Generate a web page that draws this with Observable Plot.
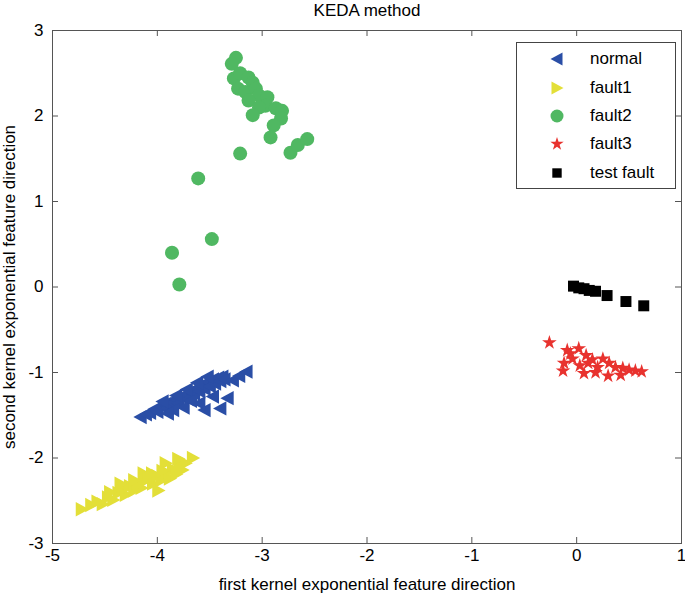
<!DOCTYPE html>
<html>
<head>
<meta charset="utf-8">
<script src="https://cdn.jsdelivr.net/npm/d3@7"></script>
<script src="https://cdn.jsdelivr.net/npm/@observablehq/plot@0.6"></script>
<style>
  html, body { margin: 0; padding: 0; background: #fff; }
  #wrap { position: relative; width: 685px; height: 598px; font-family: "Liberation Sans", Arial, sans-serif; }
  #legend { position: absolute; left: 516px; top: 42px; width: 160px; height: 147px; border: 1px solid #444; background: #fff; box-sizing: border-box; }
  .row { position: absolute; left: 0; height: 20px; width: 100%; }
  .row svg { position: absolute; left: 30px; top: 0; }
  .row span { position: absolute; left: 73px; top: 0; line-height: 20px; font-size: 17px; color: #000; }
</style>
</head>
<body>
<div id="wrap"></div>
<script>
const title = "KEDA method";
const xLabel = "first kernel exponential feature direction";
const yLabel = "second kernel exponential feature direction";
const xTicks = [-5, -4, -3, -2, -1, 0, 1];
const yTicks = [-3, -2, -1, 0, 1, 2, 3];
const seriesNames = ["normal", "fault1", "fault2", "fault3", "test fault"];
const seriesColors = ["#2a4ea6", "#e3df38", "#50b862", "#e8322e", "#000000"];

const normal = [
  [-4.16,-1.52],[-4.11,-1.49],[-4.07,-1.47],[-4.03,-1.43],[-4.00,-1.46],[-3.96,-1.40],[-3.93,-1.37],
  [-3.90,-1.42],[-3.86,-1.35],[-3.83,-1.31],[-3.80,-1.36],[-3.77,-1.29],[-3.74,-1.26],[-3.71,-1.31],
  [-3.68,-1.22],[-3.65,-1.25],[-3.62,-1.18],[-3.60,-1.22],[-3.57,-1.14],[-3.55,-1.19],[-3.52,-1.11],
  [-3.50,-1.16],[-3.47,-1.08],[-3.45,-1.13],[-3.42,-1.06],[-3.40,-1.10],[-3.38,-1.05],[-3.36,-1.08],
  [-3.28,-1.09],[-3.22,-1.04],[-3.15,-0.99],[-3.47,-1.28],[-3.40,-1.42],[-3.55,-1.44],[-3.60,-1.36],
  [-3.33,-1.30],[-3.75,-1.41],[-3.85,-1.44],[-3.62,-1.12],[-3.52,-1.05],[-3.72,-1.20],[-3.82,-1.27],
  [-3.95,-1.34],[-3.68,-1.33],[-3.90,-1.48]
];
const fault1 = [
  [-4.72,-2.60],[-4.63,-2.55],[-4.57,-2.51],[-4.52,-2.54],[-4.47,-2.46],[-4.42,-2.49],[-4.37,-2.41],
  [-4.33,-2.36],[-4.30,-2.43],[-4.26,-2.33],[-4.22,-2.38],[-4.19,-2.30],[-4.15,-2.35],[-4.12,-2.27],
  [-4.13,-2.18],[-4.08,-2.24],[-4.04,-2.30],[-4.00,-2.21],[-3.99,-2.38],[-3.96,-2.26],[-3.92,-2.06],
  [-3.91,-2.17],[-3.88,-2.24],[-3.85,-2.13],[-3.82,-2.19],[-3.79,-2.08],[-3.76,-2.14],[-3.73,-2.06],
  [-3.66,-2.00],[-4.35,-2.30],[-4.22,-2.26],[-4.05,-2.18],[-3.95,-2.15],[-4.45,-2.40],[-3.80,-2.01]
];
const fault2 = [
  [-3.25,2.68],[-3.29,2.61],[-3.27,2.44],[-3.21,2.50],[-3.13,2.45],[-3.09,2.39],[-3.23,2.32],
  [-3.16,2.28],[-3.06,2.32],[-3.03,2.24],[-3.13,2.18],[-2.95,2.22],[-2.97,2.12],[-3.03,2.10],
  [-2.87,2.09],[-2.81,2.06],[-3.09,2.01],[-2.82,1.97],[-2.89,1.89],[-2.92,1.75],[-3.21,1.56],
  [-2.73,1.57],[-2.66,1.66],[-2.57,1.73],[-3.61,1.27],[-3.48,0.56],[-3.86,0.40],[-3.79,0.03]
];
const fault3 = [
  [-0.26,-0.65],[-0.09,-0.74],[0.02,-0.72],[-0.12,-0.89],[-0.13,-0.98],[-0.04,-0.84],[0.09,-0.80],
  [0.11,-0.89],[0.07,-1.01],[0.25,-0.84],[0.20,-0.94],[0.31,-0.89],[0.30,-1.04],[0.37,-0.94],
  [0.44,-0.95],[0.50,-0.97],[0.56,-0.98],[0.62,-0.99],[0.15,-0.85],[0.03,-0.92],[-0.06,-0.78],
  [0.42,-1.03],[0.18,-1.00]
];
const testFault = [
  [-0.03,0.01],[0.02,-0.01],[0.07,-0.02],[0.12,-0.04],[0.18,-0.05],[0.29,-0.10],[0.47,-0.17],[0.64,-0.22]
];

// custom left / right pointing triangles
const triLeft = { draw(ctx, size) { const r = Math.sqrt(size / Math.PI); ctx.moveTo(-r, 0); ctx.lineTo(r * 0.85, -r); ctx.lineTo(r * 0.85, r); ctx.closePath(); } };
const triRight = { draw(ctx, size) { const r = Math.sqrt(size / Math.PI); ctx.moveTo(r, 0); ctx.lineTo(-r * 0.85, -r); ctx.lineTo(-r * 0.85, r); ctx.closePath(); } };
const symbols = [triLeft, triRight, "circle", "star", "square"];
const radii = [7.2, 7.2, 7, 4.6, 6.2];
const data = [normal, fault1, fault2, fault3, testFault];

const W = 685, H = 598, mt = 30, mb = 55, ml = 52, mr = 4;
const innerH = H - mt - mb, innerW = W - ml - mr;
const fmt = d => String(d);

const marks = [];
data.forEach((arr, i) => {
  marks.push(Plot.dot(arr, { x: d => d[0], y: d => d[1], symbol: () => symbols[i], r: radii[i], fill: seriesColors[i], stroke: "none" }));
});
// inward ticks on all four sides
marks.push(Plot.tickX(xTicks, { x: d => d, insetTop: innerH - 6, stroke: "#555" }));
marks.push(Plot.tickX(xTicks, { x: d => d, insetBottom: innerH - 6, stroke: "#555" }));
marks.push(Plot.tickY(yTicks, { y: d => d, insetRight: innerW - 6, stroke: "#555" }));
marks.push(Plot.tickY(yTicks, { y: d => d, insetLeft: innerW - 6, stroke: "#555" }));
marks.push(Plot.frame({ stroke: "#555" }));
marks.push(Plot.axisX(xTicks, { tickSize: 0, tickPadding: 5, fontSize: 17, tickFormat: fmt, label: xLabel, labelAnchor: "center", labelOffset: 46, labelArrow: "none" }));
marks.push(Plot.axisY(yTicks, { tickSize: 0, tickPadding: 9, fontSize: 17, tickFormat: fmt, label: yLabel, labelAnchor: "center", labelOffset: 50, labelArrow: "none" }));
marks.push(Plot.text([title], { text: d => d, frameAnchor: "top", dy: -20, fontSize: 17, lineAnchor: "middle" }));

const chart = Plot.plot({
  width: W, height: H,
  marginTop: mt, marginBottom: mb, marginLeft: ml, marginRight: mr,
  x: { domain: [-5, 1] },
  y: { domain: [-3, 3] },
  style: { fontFamily: "Liberation Sans, Arial, sans-serif", fontSize: "17px", color: "#000", background: "#fff" },
  marks
});
const wrap = document.getElementById("wrap");
wrap.appendChild(chart);

// legend
const legend = document.createElement("div");
legend.id = "legend";
const legendSymbols = [triLeft, triRight, d3.symbolCircle, d3.symbolStar, d3.symbolSquare];
const legendR = [6.5, 6.5, 6.5, 4.2, 5.3];
const rowTops = [6, 35, 63, 91, 120];
seriesNames.forEach((name, i) => {
  const row = document.createElement("div");
  row.className = "row";
  row.style.top = rowTops[i] + "px";
  const path = d3.symbol(legendSymbols[i], Math.PI * legendR[i] * legendR[i])();
  row.innerHTML = `<svg width="20" height="20"><path transform="translate(10,10)" d="${path}" fill="${seriesColors[i]}"></path></svg><span>${name}</span>`;
  legend.appendChild(row);
});
wrap.appendChild(legend);
</script>
</body>
</html>
